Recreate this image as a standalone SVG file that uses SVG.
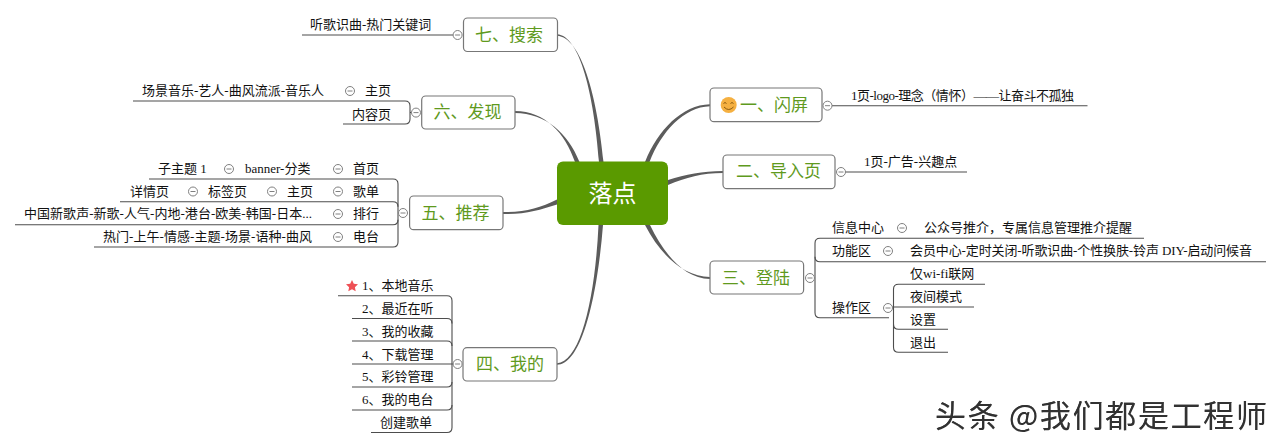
<svg xmlns="http://www.w3.org/2000/svg" width="1280" height="447" viewBox="0 0 1280 447">
<style>
text{font-family:"Liberation Serif","Noto Sans CJK SC",sans-serif;font-size:13px;fill:#111}
.t{fill:#5f9a1e;font-size:17px;font-family:"Noto Sans CJK SC",sans-serif;font-weight:400}
.box{fill:#fff;stroke:#777;stroke-width:1.2}
.l{fill:none;stroke:#4d4d4d;stroke-width:1.1}
.b{fill:#5c5c5c;stroke:none}
</style>
<defs>
<g id="c"><circle r="4.500" fill="#fff" stroke="#808080" stroke-width="1"/><path d="M-2.500 0H2.500" stroke="#808080" stroke-width="1"/></g>
<filter id="emb" x="-5%" y="-20%" width="110%" height="140%"><feOffset in="SourceAlpha" dx="1" dy="0.700" result="o"/><feComposite in="SourceGraphic" in2="o" operator="out" result="edge"/><feMerge><feMergeNode in="SourceGraphic"/><feMergeNode in="edge"/></feMerge></filter>
</defs>
<rect width="1280" height="447" fill="#fff"/>
<g id="connectors">
<path class="b" d="M557 34.300C580 35.500 594 95 599 162H603.500C597 95 581 37 557 35.700Z"/>
<path class="b" d="M515 111C545 111 565 133 575 162H579.500C568 133 546 113.500 515 113Z"/>
<path class="b" d="M503 212C525 212.500 540 208 557 199.500V204.500C540 210 525 214.500 503 214Z"/>
<path class="b" d="M557 363.300C580 362 595 300 598.500 225H603C597 300 581 364.800 557 364.700Z"/>
<path class="b" d="M710 104.300C682 105 658 130 645 162H649.500C661 132 684 107 710 106.300Z"/>
<path class="b" d="M723 171C702 171.500 686 174 668 180V185C686 177.500 702 173 723 173Z"/>
<path class="b" d="M710 277C684 276.500 661 256 645 225H650C664 254 684 278.500 710 279Z"/>
<path class="l" d="M302 35H453"/>
<path class="l" d="M133 101H405Q410 101 410 106V119Q410 124 405 124H343"/>
<path class="l" d="M410 112.500H412"/>
<path class="l" d="M149 179H393Q398 179 398 184V242Q398 247 393 247H94"/>
<path class="l" d="M120 201.700H393Q398 201.700 398 206.700"/>
<path class="l" d="M15 224.700H393Q398 224.700 398 219.700"/>
<path class="l" d="M398 213H399"/>
<path class="l" d="M338 295.700H447Q452 295.700 452 300.700V427.500Q452 432.500 447 432.500H371"/>
<path class="l" d="M352 318.500H447Q452 318.500 452 323.500"/>
<path class="l" d="M352 341H447Q452 341 452 346"/>
<path class="l" d="M352 364H453.500"/>
<path class="l" d="M352 387H447Q452 387 452 382"/>
<path class="l" d="M352 410H447Q452 410 452 405"/>
<path class="l" d="M832 105.700H1087.500"/>
<path class="l" d="M845 172H967"/>
<path class="l" d="M1144 238.300H820Q815 238.300 815 243.300V312.700Q815 317.700 820 317.700H889"/>
<path class="l" d="M814 278H815"/>
<path class="l" d="M815 256.700Q815 261.700 820 261.700H1266"/>
<path class="l" d="M985 284.300H898.500Q893.500 284.300 893.500 289.300V347.300Q893.500 352.300 898.500 352.300H948"/>
<path class="l" d="M974 307H892"/>
<path class="l" d="M948 329.300H898.500Q893.500 329.300 893.500 324.300"/>
</g>
<g id="center"><rect x="557" y="161.500" width="111" height="63.500" rx="6" fill="#5a9a00"/><text x="612.500" y="202" text-anchor="middle" style="fill:#fff;font-size:24px;font-family:'Noto Sans CJK SC',sans-serif">落点</text></g>
<g id="n7"><rect class="box" x="463.500" y="18" width="94" height="33.500" rx="4"/><text class="t" x="475" y="40.500">七、搜索</text><use href="#c" x="457.600" y="35"/></g>
<g id="n6"><rect class="box" x="421.700" y="96" width="93.300" height="33" rx="4"/><text class="t" x="433.500" y="118">六、发现</text><use href="#c" x="416" y="112.600"/></g>
<g id="n5"><rect class="box" x="409.600" y="196" width="93.400" height="33.700" rx="4"/><text class="t" x="421.500" y="218.500">五、推荐</text><use href="#c" x="403" y="213"/></g>
<g id="n4"><rect class="box" x="463" y="347.700" width="94" height="33.300" rx="4"/><text class="t" x="476" y="370">四、我的</text><use href="#c" x="457.600" y="364"/></g>
<g id="n1"><rect class="box" x="710" y="88" width="112" height="33.700" rx="4"/><g><circle cx="728.700" cy="105" r="8" fill="#f5b041"/><path d="M723.500 103.500q1.500-2 3 0M730.500 103.500q1.500-2 3 0M724 107q4.700 5 9.500 0" fill="none" stroke="#8a5a10" stroke-width="1"/></g><text class="t" x="740" y="110.500">一、闪屏</text><use href="#c" x="827.500" y="105.700"/></g>
<g id="n2"><rect class="box" x="723" y="155" width="112" height="33.700" rx="4"/><text class="t" x="736" y="177">二、导入页</text><use href="#c" x="841" y="172"/></g>
<g id="n3"><rect class="box" x="710" y="261" width="93.600" height="33" rx="4"/><text class="t" x="722" y="283.500">三、登陆</text><use href="#c" x="810" y="278"/></g>
<g id="l7"><text x="310" y="29">听歌识曲-热门关键词</text></g>
<g id="l6a"><text x="142" y="95" textLength="182">场景音乐-艺人-曲风流派-音乐人</text><use href="#c" x="350" y="91"/><text x="365" y="95">主页</text></g>
<g id="l6b"><text x="352" y="119">内容页</text></g>
<g id="l5a"><text x="158" y="173">子主题 1</text><use href="#c" x="229" y="169"/><text x="245" y="173">banner-分类</text><use href="#c" x="338" y="169"/><text x="353" y="173">首页</text></g>
<g id="l5b"><text x="130" y="196">详情页</text><use href="#c" x="193" y="191.500"/><text x="208" y="196">标签页</text><use href="#c" x="272" y="191.500"/><text x="287" y="196">主页</text><use href="#c" x="338" y="191.500"/><text x="353" y="196">歌单</text></g>
<g id="l5c"><text x="24" y="218" textLength="288">中国新歌声-新歌-人气-内地-港台-欧美-韩国-日本...</text><use href="#c" x="338" y="214"/><text x="353" y="218">排行</text></g>
<g id="l5d"><text x="103" y="241" textLength="209">热门-上午-情感-主题-场景-语种-曲风</text><use href="#c" x="338" y="237"/><text x="353" y="241">电台</text></g>
<g id="l4a"><polygon points="352,280 353.800,283.800 358,284.300 354.900,287.200 355.700,291.300 352,289.300 348.300,291.300 349.100,287.200 346,284.300 350.200,283.800" fill="#ee5055"/><text x="362" y="290">1、本地音乐</text></g>
<g id="l4b"><text x="362" y="313">2、最近在听</text></g>
<g id="l4c"><text x="362" y="336">3、我的收藏</text></g>
<g id="l4d"><text x="362" y="358.500">4、下载管理</text></g>
<g id="l4e"><text x="362" y="381">5、彩铃管理</text></g>
<g id="l4f"><text x="362" y="404">6、我的电台</text></g>
<g id="l4g"><text x="380" y="427">创建歌单</text></g>
<g id="l1"><text x="851" y="100" textLength="223">1页-logo-理念（情怀）——让奋斗不孤独</text></g>
<g id="l2"><text x="864" y="166">1页-广告-兴趣点</text></g>
<g id="l3a"><text x="832" y="232">信息中心</text><use href="#c" x="902" y="228"/><text x="924" y="232">公众号推介，专属信息管理推介提醒</text></g>
<g id="l3b"><text x="832" y="255">功能区</text><use href="#c" x="888" y="251"/><text x="910" y="255" textLength="342">会员中心-定时关闭-听歌识曲-个性换肤-铃声 DIY-启动问候音</text></g>
<g id="l3c"><text x="832" y="312">操作区</text><use href="#c" x="888" y="308"/></g>
<g id="l3d"><text x="910" y="278">仅wi-fi联网</text></g>
<g id="l3e"><text x="910" y="301">夜间模式</text></g>
<g id="l3f"><text x="910" y="324">设置</text></g>
<g id="l3g"><text x="910" y="347">退出</text></g>
<text x="935" y="427" textLength="332" filter="url(#emb)" style="font-family:'Noto Sans CJK SC',sans-serif;font-size:31px;fill:#333">头条 @我们都是工程师</text>
</svg>
